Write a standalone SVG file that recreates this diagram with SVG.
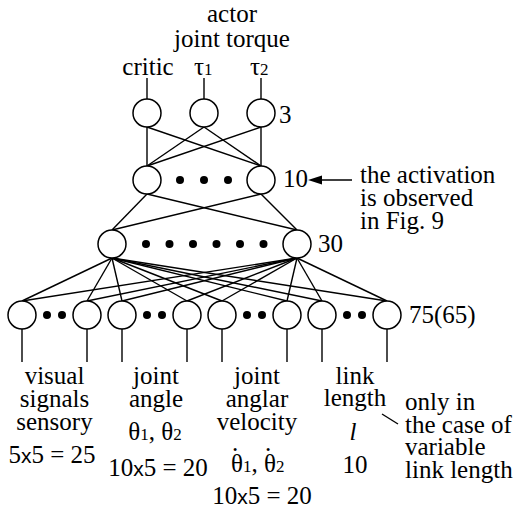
<svg xmlns="http://www.w3.org/2000/svg" width="517" height="516" viewBox="0 0 517 516">
<style>
.n{fill:#fff;stroke:#000;stroke-width:1.5}
.d{fill:#000}
.c line{stroke:#000;stroke-width:1.4}
.t text{font-family:'Liberation Serif','Times New Roman','DejaVu Serif',serif;font-size:25px;fill:#000}
.t .m{text-anchor:middle}
.t .s{font-size:17px}
.t .x{font-family:'Liberation Sans',Arial,sans-serif;font-size:21px}
</style>
<rect width="517" height="516" fill="#fff"/>
<g id="connectors" class="c">
<line x1="147" y1="78" x2="147" y2="99"/>
<line x1="204" y1="78" x2="204" y2="99"/>
<line x1="261" y1="78" x2="261" y2="99"/>
<line x1="147" y1="127" x2="147" y2="166"/>
<line x1="147" y1="127" x2="261" y2="166"/>
<line x1="204" y1="127" x2="147" y2="166"/>
<line x1="204" y1="127" x2="261" y2="166"/>
<line x1="261" y1="127" x2="147" y2="166"/>
<line x1="261" y1="127" x2="261" y2="166"/>
<line x1="147" y1="194" x2="112" y2="230"/>
<line x1="147" y1="194" x2="297" y2="230"/>
<line x1="261" y1="194" x2="112" y2="230"/>
<line x1="261" y1="194" x2="297" y2="230"/>
<line x1="112" y1="258" x2="22" y2="301"/>
<line x1="112" y1="258" x2="87" y2="301"/>
<line x1="112" y1="258" x2="122" y2="301"/>
<line x1="112" y1="258" x2="187" y2="301"/>
<line x1="112" y1="258" x2="222" y2="301"/>
<line x1="112" y1="258" x2="287" y2="301"/>
<line x1="112" y1="258" x2="322" y2="301"/>
<line x1="112" y1="258" x2="387" y2="301"/>
<line x1="297" y1="258" x2="22" y2="301"/>
<line x1="297" y1="258" x2="87" y2="301"/>
<line x1="297" y1="258" x2="122" y2="301"/>
<line x1="297" y1="258" x2="187" y2="301"/>
<line x1="297" y1="258" x2="222" y2="301"/>
<line x1="297" y1="258" x2="287" y2="301"/>
<line x1="297" y1="258" x2="322" y2="301"/>
<line x1="297" y1="258" x2="387" y2="301"/>
<line x1="22" y1="329" x2="22" y2="362"/>
<line x1="87" y1="329" x2="87" y2="362"/>
<line x1="122" y1="329" x2="122" y2="362"/>
<line x1="187" y1="329" x2="187" y2="362"/>
<line x1="222" y1="329" x2="222" y2="362"/>
<line x1="287" y1="329" x2="287" y2="362"/>
<line x1="322" y1="329" x2="322" y2="362"/>
<line x1="387" y1="329" x2="387" y2="362"/>
<line x1="352" y1="180" x2="318" y2="180"/>
<line x1="382" y1="414" x2="398" y2="424"/>
</g>
<polygon points="308,180 322,175.5 322,184.5" fill="#000"/>
<g id="out-critic"><circle class="n" cx="147" cy="113" r="14"/></g>
<g id="out-tau1"><circle class="n" cx="204" cy="113" r="14"/></g>
<g id="out-tau2"><circle class="n" cx="261" cy="113" r="14"/></g>
<g id="h10-a"><circle class="n" cx="147" cy="180" r="14"/></g>
<g id="h10-dots"><circle class="d" cx="180" cy="180" r="4"/><circle class="d" cx="204" cy="180" r="4"/><circle class="d" cx="228" cy="180" r="4"/></g>
<g id="h10-b"><circle class="n" cx="261" cy="180" r="14"/></g>
<g id="h30-a"><circle class="n" cx="112" cy="244" r="14"/></g>
<g id="h30-dots"><circle class="d" cx="146" cy="244" r="4"/><circle class="d" cx="169.5" cy="244" r="4"/><circle class="d" cx="193" cy="244" r="4"/><circle class="d" cx="216.5" cy="244" r="4"/><circle class="d" cx="240" cy="244" r="4"/><circle class="d" cx="263.5" cy="244" r="4"/></g>
<g id="h30-b"><circle class="n" cx="297" cy="244" r="14"/></g>
<g id="in-1"><circle class="n" cx="22" cy="315" r="14"/><circle class="d" cx="47" cy="315" r="4"/><circle class="d" cx="62" cy="315" r="4"/><circle class="n" cx="87" cy="315" r="14"/></g>
<g id="in-2"><circle class="n" cx="122" cy="315" r="14"/><circle class="d" cx="147" cy="315" r="4"/><circle class="d" cx="162" cy="315" r="4"/><circle class="n" cx="187" cy="315" r="14"/></g>
<g id="in-3"><circle class="n" cx="222" cy="315" r="14"/><circle class="d" cx="247" cy="315" r="4"/><circle class="d" cx="262" cy="315" r="4"/><circle class="n" cx="287" cy="315" r="14"/></g>
<g id="in-4"><circle class="n" cx="322" cy="315" r="14"/><circle class="d" cx="347" cy="315" r="4"/><circle class="d" cx="362" cy="315" r="4"/><circle class="n" cx="387" cy="315" r="14"/></g>
<g id="labels" class="t" font-family="Liberation Serif, DejaVu Serif, serif">
<text class="m" x="232" y="22">actor<tspan x="232" y="47">joint torque</tspan></text>
<text class="m" x="148" y="75">critic</text>
<text x="194" y="75">τ<tspan class="s">1</tspan></text>
<text x="250" y="75">τ<tspan class="s">2</tspan></text>
<text x="279" y="123">3</text>
<text x="283" y="187">10</text>
<text x="318" y="252">30</text>
<text x="409" y="323">75(65)</text>
<text x="360" y="183">the activation<tspan x="360" y="206">is observed</tspan><tspan x="360" y="229">in Fig. 9</tspan></text>
<text class="m" x="54.5" y="384">visual<tspan x="54.5" y="407">signals</tspan><tspan x="54.5" y="430">sensory</tspan></text>
<text class="m" x="52" y="463">5<tspan class="x">x</tspan>5 = 25</text>
<text class="m" x="156" y="384">joint<tspan x="156" y="407">angle</tspan></text>
<text class="m" x="155" y="440">θ<tspan class="s">1</tspan>, θ<tspan class="s">2</tspan></text>
<text class="m" x="158" y="476">10<tspan class="x">x</tspan>5 = 20</text>
<text class="m" x="257" y="384">joint<tspan x="257" y="407">anglar</tspan><tspan x="257" y="430">velocity</tspan></text>
<text x="231" y="472">θ<tspan class="s">1</tspan>, θ<tspan class="s">2</tspan><tspan x="232" y="451">.</tspan><tspan x="265" y="451">.</tspan></text>
<text class="m" x="262" y="504">10<tspan class="x">x</tspan>5 = 20</text>
<text class="m" x="355" y="384">link<tspan x="355" y="406">length</tspan></text>
<text class="m" x="353" y="440" font-style="italic">l</text>
<text class="m" x="355" y="473">10</text>
<text x="405" y="410">only in<tspan x="405" y="433">the case of</tspan><tspan x="405" y="455">variable</tspan><tspan x="405" y="478">link length</tspan></text>
</g>
</svg>
